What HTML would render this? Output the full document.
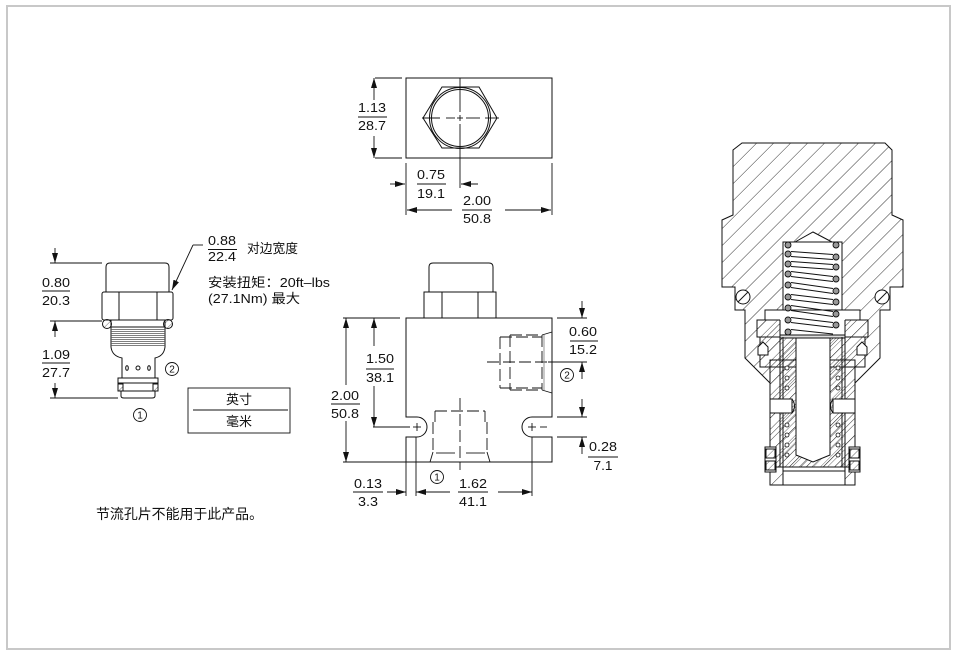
<!DOCTYPE html>
<html><head><meta charset="utf-8"><style>
html,body{margin:0;padding:0;background:#fff;}
svg{display:block;}
text{font-family:"Liberation Sans","Noto Sans CJK SC",sans-serif;fill:#111;}
</style></head><body>
<svg width="957" height="656" viewBox="0 0 957 656" xmlns="http://www.w3.org/2000/svg">
<defs>
<marker id="ar" viewBox="0 0 10 6" refX="10" refY="3" markerWidth="10" markerHeight="6" markerUnits="userSpaceOnUse" orient="auto"><path d="M0,0 L10,3 L0,6 Z" fill="#111"/></marker>
<pattern id="hb" patternUnits="userSpaceOnUse" width="12" height="12" patternTransform="rotate(45)"><line x1="0" y1="0" x2="0" y2="12" stroke="#333" stroke-width="1"/></pattern>
<pattern id="hs" patternUnits="userSpaceOnUse" width="5" height="5" patternTransform="rotate(45)"><line x1="0" y1="0" x2="0" y2="5" stroke="#444" stroke-width="0.8"/></pattern>
<pattern id="hm" patternUnits="userSpaceOnUse" width="8" height="8" patternTransform="rotate(45)"><line x1="0" y1="0" x2="0" y2="8" stroke="#333" stroke-width="0.9"/></pattern>
</defs>

<rect x="7" y="6" width="943" height="643" fill="none" stroke="#c8c8c8" stroke-width="2"/>

<!-- ============ LEFT CARTRIDGE ============ -->
<g fill="none" stroke="#111" stroke-width="1">
  <path d="M106,292 L106,267 Q106,263 110,263 L165,263 Q169,263 169,267 L169,292"/>
  <rect x="102" y="292" width="71" height="28" rx="2"/>
  <line x1="119" y1="292" x2="119" y2="320"/>
  <line x1="157" y1="292" x2="157" y2="320"/>
  <circle cx="107" cy="324" r="4.5" fill="url(#hs)"/>
  <circle cx="168" cy="324" r="4.5" fill="url(#hs)"/>
  <line x1="111" y1="320" x2="111" y2="347"/>
  <line x1="165" y1="320" x2="165" y2="347"/>
  <line x1="111" y1="327" x2="165" y2="327"/>
  <g stroke="#555" stroke-width="0.7">
    <line x1="111" y1="329.5" x2="165" y2="329.5"/><line x1="111" y1="331.5" x2="165" y2="331.5"/>
    <line x1="111" y1="333.5" x2="165" y2="333.5"/><line x1="111" y1="335.5" x2="165" y2="335.5"/>
    <line x1="111" y1="337.5" x2="165" y2="337.5"/><line x1="111" y1="339.5" x2="165" y2="339.5"/>
    <line x1="111" y1="341.5" x2="165" y2="341.5"/><line x1="111" y1="343.5" x2="165" y2="343.5"/>
    <line x1="111" y1="345.5" x2="165" y2="345.5"/>
  </g>
  <path d="M111,347 Q112,356 122,358 L122,378"/>
  <path d="M165,347 Q164,356 155,358 L155,378"/>
  <ellipse cx="127" cy="368" rx="1.3" ry="2.3"/>
  <circle cx="138" cy="368" r="2"/>
  <ellipse cx="149" cy="368" rx="1.3" ry="2.3"/>
  <rect x="118" y="378" width="40" height="13"/>
  <line x1="118" y1="383" x2="158" y2="383"/>
  <rect x="118" y="384" width="5" height="7" fill="url(#hs)"/>
  <rect x="153" y="384" width="5" height="7" fill="url(#hs)"/>
  <path d="M121,391 L121,396 Q121,398 124,398 L152,398 Q155,398 155,396 L155,391"/>
</g>
<!-- left dims -->
<g fill="none" stroke="#111" stroke-width="0.9">
  <line x1="50" y1="263" x2="102" y2="263"/>
  <line x1="50" y1="321" x2="102" y2="321"/>
  <line x1="50" y1="398" x2="118" y2="398"/>
  <line x1="55" y1="248" x2="55" y2="263" marker-end="url(#ar)"/>
  <line x1="55" y1="337" x2="55" y2="321" marker-end="url(#ar)"/>
  <line x1="55" y1="383" x2="55" y2="398" marker-end="url(#ar)"/>
  <line x1="42" y1="291" x2="70" y2="291"/>
  <line x1="42" y1="363" x2="70" y2="363"/>
  <line x1="208" y1="249.5" x2="237" y2="249.5"/>
  <line x1="203" y1="245" x2="193" y2="245"/>
  <line x1="193" y1="245" x2="172" y2="290" marker-end="url(#ar)"/>
  <circle cx="172" cy="369" r="6.5"/>
  <circle cx="140" cy="415" r="6.5"/>
  <rect x="188" y="388" width="102" height="45"/>
  <line x1="193" y1="410" x2="288" y2="410"/>
</g>
<g font-size="13" text-anchor="middle">
  <text x="56" y="287" textLength="28" lengthAdjust="spacingAndGlyphs">0.80</text>
  <text x="56" y="305" textLength="28" lengthAdjust="spacingAndGlyphs">20.3</text>
  <text x="56" y="359" textLength="28" lengthAdjust="spacingAndGlyphs">1.09</text>
  <text x="56" y="377" textLength="28" lengthAdjust="spacingAndGlyphs">27.7</text>
  <text x="222" y="245" textLength="28" lengthAdjust="spacingAndGlyphs">0.88</text>
  <text x="222" y="261" textLength="28" lengthAdjust="spacingAndGlyphs">22.4</text>
  <text x="239" y="404">英寸</text>
  <text x="239" y="426">毫米</text>
</g>
<g font-size="10" text-anchor="middle">
  <text x="172" y="372.5">2</text>
  <text x="140" y="418.5">1</text>
</g>
<g font-size="13">
  <text x="247" y="253" textLength="51" lengthAdjust="spacingAndGlyphs">对边宽度</text>
  <text x="208" y="287" textLength="122" lengthAdjust="spacingAndGlyphs">安装扭矩：20ft–lbs</text>
  <text x="208" y="303" textLength="92" lengthAdjust="spacingAndGlyphs">(27.1Nm) 最大</text>
  <text x="96" y="519" font-size="14" textLength="167" lengthAdjust="spacingAndGlyphs">节流孔片不能用于此产品。</text>
</g>

<!-- ============ TOP VIEW ============ -->
<g fill="none" stroke="#111" stroke-width="1">
  <rect x="406" y="78" width="146" height="80"/>
  <polygon points="423,118 442,87 479,87 497,118 479,148 442,148"/>
  <circle cx="460" cy="118" r="30.5"/>
  <circle cx="460" cy="118" r="28.5"/>
</g>
<g fill="none" stroke="#111" stroke-width="0.9">
  <line x1="460" y1="78" x2="460" y2="112"/>
  <line x1="460" y1="115" x2="460" y2="121"/>
  <line x1="460" y1="124" x2="460" y2="188"/>
  <line x1="422" y1="118" x2="440" y2="118"/>
  <line x1="446" y1="118" x2="455" y2="118"/>
  <line x1="457" y1="118" x2="463" y2="118"/>
  <line x1="466" y1="118" x2="480" y2="118"/>
  <line x1="485" y1="118" x2="499" y2="118"/>
  <line x1="375" y1="78" x2="402" y2="78"/>
  <line x1="375" y1="158" x2="402" y2="158"/>
  <line x1="374" y1="100" x2="374" y2="78" marker-end="url(#ar)"/>
  <line x1="374" y1="136" x2="374" y2="158" marker-end="url(#ar)"/>
  <line x1="358" y1="117" x2="387" y2="117"/>
  <line x1="406" y1="163" x2="406" y2="215"/>
  <line x1="552" y1="163" x2="552" y2="215"/>
  <line x1="390" y1="184" x2="405" y2="184" marker-end="url(#ar)"/>
  <line x1="478" y1="184" x2="461" y2="184" marker-end="url(#ar)"/>
  <line x1="417" y1="184" x2="446" y2="184"/>
  <line x1="452" y1="210" x2="407" y2="210" marker-end="url(#ar)"/>
  <line x1="505" y1="210" x2="551" y2="210" marker-end="url(#ar)"/>
  <line x1="462" y1="210" x2="492" y2="210"/>
</g>
<g font-size="13" text-anchor="middle">
  <text x="372" y="112" textLength="28" lengthAdjust="spacingAndGlyphs">1.13</text>
  <text x="372" y="130" textLength="28" lengthAdjust="spacingAndGlyphs">28.7</text>
  <text x="431" y="179" textLength="28" lengthAdjust="spacingAndGlyphs">0.75</text>
  <text x="431" y="198" textLength="28" lengthAdjust="spacingAndGlyphs">19.1</text>
  <text x="477" y="205" textLength="28" lengthAdjust="spacingAndGlyphs">2.00</text>
  <text x="477" y="223" textLength="28" lengthAdjust="spacingAndGlyphs">50.8</text>
</g>

<!-- ============ CENTER BLOCK ============ -->
<g fill="none" stroke="#111" stroke-width="1">
  <path d="M429,292 L429,267 Q429,263 433,263 L489,263 Q493,263 493,267 L493,292"/>
  <rect x="424" y="292" width="72" height="26"/>
  <line x1="442" y1="292" x2="442" y2="318"/>
  <line x1="478" y1="292" x2="478" y2="318"/>
  <path d="M406,318 L552,318 L552,417 L532,417 A10,10 0 0,0 532,437 L552,437 L552,462 L406,462 L406,437 L417,437 A10,10 0 0,0 417,417 L406,417 Z"/>
</g>
<g fill="none" stroke="#111" stroke-width="0.9">
  <line x1="413" y1="427" x2="421" y2="427"/><line x1="417" y1="423" x2="417" y2="431"/>
  <line x1="528" y1="427" x2="536" y2="427"/><line x1="532" y1="423" x2="532" y2="431"/>
  <line x1="540" y1="427" x2="547" y2="427"/>
  <g stroke-dasharray="12,4">
    <line x1="500" y1="337" x2="500" y2="388"/>
    <line x1="500" y1="337" x2="542" y2="337"/>
    <line x1="500" y1="388" x2="542" y2="388"/>
    <line x1="510" y1="335" x2="510" y2="390"/>
    <line x1="510" y1="335" x2="542" y2="335"/>
    <line x1="510" y1="390" x2="542" y2="390"/>
    <line x1="542" y1="335" x2="542" y2="390"/>
    <line x1="487" y1="362" x2="552" y2="362"/>
  </g>
  <line x1="544" y1="335" x2="544" y2="390" stroke="#888"/>
  <line x1="542" y1="335" x2="552" y2="332"/>
  <line x1="542" y1="390" x2="552" y2="393"/>
  <g stroke-dasharray="12,4">
    <line x1="435" y1="411" x2="485" y2="411"/>
    <line x1="433" y1="422" x2="433" y2="452"/>
    <line x1="487" y1="422" x2="487" y2="452"/>
    <line x1="460" y1="398" x2="460" y2="470"/>
  </g>
  <line x1="435" y1="411" x2="435" y2="422"/>
  <line x1="485" y1="411" x2="485" y2="422"/>
  <line x1="433" y1="452" x2="430" y2="462"/>
  <line x1="487" y1="452" x2="490" y2="462"/>
  <line x1="436" y1="453" x2="455" y2="453" stroke="#777" stroke-width="1.6"/>
  <line x1="466" y1="453" x2="485" y2="453" stroke="#777" stroke-width="1.6"/>
  <line x1="343" y1="318" x2="400" y2="318"/>
  <line x1="343" y1="462" x2="406" y2="462"/>
  <line x1="373" y1="427" x2="410" y2="427"/>
  <line x1="406" y1="437" x2="406" y2="496"/>
  <line x1="416" y1="437" x2="416" y2="496"/>
  <line x1="532" y1="437" x2="532" y2="496"/>
  <line x1="346" y1="385" x2="346" y2="318" marker-end="url(#ar)"/>
  <line x1="346" y1="421" x2="346" y2="462" marker-end="url(#ar)"/>
  <line x1="331" y1="404" x2="360" y2="404"/>
  <line x1="374" y1="346" x2="374" y2="318" marker-end="url(#ar)"/>
  <line x1="374" y1="386" x2="374" y2="427" marker-end="url(#ar)"/>
  <line x1="366" y1="369" x2="394" y2="369"/>
  <line x1="557" y1="318" x2="587" y2="318"/>
  <line x1="548" y1="362" x2="587" y2="362"/>
  <line x1="582" y1="301" x2="582" y2="318" marker-end="url(#ar)"/>
  <line x1="582" y1="379" x2="582" y2="362" marker-end="url(#ar)"/>
  <line x1="570" y1="341" x2="598" y2="341"/>
  <circle cx="567" cy="375" r="6.5"/>
  <line x1="557" y1="417" x2="587" y2="417"/>
  <line x1="557" y1="437" x2="587" y2="437"/>
  <line x1="582" y1="399" x2="582" y2="417" marker-end="url(#ar)"/>
  <line x1="582" y1="454" x2="582" y2="437" marker-end="url(#ar)"/>
  <line x1="588" y1="457" x2="618" y2="457"/>
  <line x1="387" y1="492" x2="406" y2="492" marker-end="url(#ar)"/>
  <line x1="353" y1="492" x2="383" y2="492"/>
  <line x1="450" y1="492" x2="416" y2="492" marker-end="url(#ar)"/>
  <line x1="498" y1="492" x2="532" y2="492" marker-end="url(#ar)"/>
  <line x1="458" y1="492" x2="488" y2="492"/>
  <circle cx="437" cy="477" r="6.5"/>
</g>
<g font-size="13" text-anchor="middle">
  <text x="345" y="400" textLength="28" lengthAdjust="spacingAndGlyphs">2.00</text>
  <text x="345" y="418" textLength="28" lengthAdjust="spacingAndGlyphs">50.8</text>
  <text x="380" y="363" textLength="28" lengthAdjust="spacingAndGlyphs">1.50</text>
  <text x="380" y="382" textLength="28" lengthAdjust="spacingAndGlyphs">38.1</text>
  <text x="583" y="336" textLength="28" lengthAdjust="spacingAndGlyphs">0.60</text>
  <text x="583" y="354" textLength="28" lengthAdjust="spacingAndGlyphs">15.2</text>
  <text x="603" y="451" textLength="28" lengthAdjust="spacingAndGlyphs">0.28</text>
  <text x="603" y="470" textLength="19" lengthAdjust="spacingAndGlyphs">7.1</text>
  <text x="368" y="488" textLength="28" lengthAdjust="spacingAndGlyphs">0.13</text>
  <text x="368" y="506" textLength="20" lengthAdjust="spacingAndGlyphs">3.3</text>
  <text x="473" y="488" textLength="28" lengthAdjust="spacingAndGlyphs">1.62</text>
  <text x="473" y="506" textLength="28" lengthAdjust="spacingAndGlyphs">41.1</text>
</g>
<g font-size="10" text-anchor="middle">
  <text x="567" y="378.5">2</text>
  <text x="437" y="480.5">1</text>
</g>

<!-- ============ SECTION VIEW ============ -->
<g stroke="#111" stroke-width="1">
  <path d="M742,143 L885,143 L892,150 L892,215 L903,220 L903,287 L890,287 L890,310 L880,310 L880,358 L855,383 L855,485 L770,485 L770,383 L745,358 L745,310 L735,310 L735,287 L722,287 L722,220 L733,215 L733,150 Z" fill="url(#hb)"/>
  <circle cx="743" cy="297" r="7" fill="#fff"/>
  <line x1="738" y1="302" x2="748" y2="292"/>
  <circle cx="882" cy="297" r="7" fill="#fff"/>
  <line x1="877" y1="302" x2="887" y2="292"/>
  <polygon points="795,242 813,232 832,242" fill="#fff"/>
  <rect x="783" y="242" width="59" height="70" fill="#fff"/>
  <rect x="765" y="310" width="95" height="10" fill="#fff"/>
  <rect x="757" y="320" width="111" height="17" fill="url(#hm)"/>
  <rect x="780" y="312" width="65" height="25" fill="#fff" stroke="none"/>
  <line x1="780" y1="320" x2="780" y2="337"/>
  <line x1="845" y1="320" x2="845" y2="337"/>
  <rect x="760" y="337" width="105" height="30" fill="url(#hm)"/>
  <rect x="770" y="360" width="85" height="107" fill="url(#hm)"/>
  <path d="M758,355 L758,347 L763,342 L768,347 L768,355 Z" fill="#fff"/>
  <path d="M857,355 L857,347 L862,342 L867,347 L867,355 Z" fill="#fff"/>
  <rect x="780" y="337" width="65" height="130" fill="url(#hs)"/>
  <rect x="780" y="335" width="65" height="3" fill="#ddd"/>
  <path d="M796,338 L830,338 L830,455 L813,462 L796,455 Z" fill="#fff"/>
  <line x1="783" y1="337" x2="783" y2="467"/>
  <line x1="842" y1="337" x2="842" y2="467"/>
  <g fill="#fff" stroke-width="0.8">
    <circle cx="787" cy="368" r="2"/><circle cx="787" cy="378" r="2"/><circle cx="787" cy="388" r="2"/>
    <circle cx="787" cy="425" r="2"/><circle cx="787" cy="435" r="2"/><circle cx="787" cy="445" r="2"/><circle cx="787" cy="455" r="2"/>
    <circle cx="838" cy="368" r="2"/><circle cx="838" cy="378" r="2"/><circle cx="838" cy="388" r="2"/>
    <circle cx="838" cy="425" r="2"/><circle cx="838" cy="435" r="2"/><circle cx="838" cy="445" r="2"/><circle cx="838" cy="455" r="2"/>
  </g>
  <rect x="770" y="399" width="22" height="14" fill="#fff"/>
  <path d="M792,399 Q797,406 792,413" fill="none"/>
  <rect x="833" y="399" width="22" height="14" fill="#fff"/>
  <path d="M833,399 Q828,406 833,413" fill="none"/>
  <rect x="765" y="447" width="11" height="25" fill="#fff"/>
  <rect x="766" y="449" width="9" height="9" fill="url(#hs)"/>
  <rect x="766" y="461" width="9" height="9" fill="url(#hs)"/>
  <rect x="849" y="447" width="11" height="25" fill="#fff"/>
  <rect x="850" y="449" width="9" height="9" fill="url(#hs)"/>
  <rect x="850" y="461" width="9" height="9" fill="url(#hs)"/>
  <rect x="783" y="467" width="62" height="18" fill="#fff"/>
  <line x1="783" y1="471" x2="845" y2="471"/>
</g>
<g stroke="#111" stroke-width="0.9">
  <line x1="783" y1="242" x2="842" y2="242"/>
  <line x1="791" y1="251.5" x2="833" y2="254.5"/><line x1="791" y1="256.5" x2="833" y2="259.5"/>
  <line x1="791" y1="261.5" x2="833" y2="264.5"/><line x1="791" y1="266.5" x2="833" y2="269.5"/>
  <line x1="791" y1="271.5" x2="833" y2="276.5"/><line x1="791" y1="276.5" x2="833" y2="281.5"/>
  <line x1="791" y1="282.5" x2="833" y2="288.5"/><line x1="791" y1="287.5" x2="833" y2="293.5"/>
  <line x1="791" y1="294.5" x2="833" y2="299.5"/><line x1="791" y1="299.5" x2="833" y2="304.5"/>
  <line x1="791" y1="305.5" x2="833" y2="311.5"/><line x1="791" y1="310.5" x2="833" y2="316.5"/>
  <line x1="791" y1="317.5" x2="833" y2="322.5"/><line x1="791" y1="322.5" x2="833" y2="327.5"/>
  <line x1="791" y1="329.5" x2="833" y2="334"/>
  <g fill="#999">
    <circle cx="788" cy="245" r="3"/><circle cx="788" cy="254" r="3"/><circle cx="788" cy="264" r="3"/>
    <circle cx="788" cy="274" r="3"/><circle cx="788" cy="285" r="3"/><circle cx="788" cy="297" r="3"/>
    <circle cx="788" cy="308" r="3"/><circle cx="788" cy="320" r="3"/><circle cx="788" cy="332" r="3"/>
    <circle cx="836" cy="245" r="3"/><circle cx="836" cy="257" r="3"/><circle cx="836" cy="267" r="3"/>
    <circle cx="836" cy="279" r="3"/><circle cx="836" cy="291" r="3"/><circle cx="836" cy="302" r="3"/>
    <circle cx="836" cy="314" r="3"/><circle cx="836" cy="325" r="3"/>
  </g>
</g>
</svg>
</body></html>
